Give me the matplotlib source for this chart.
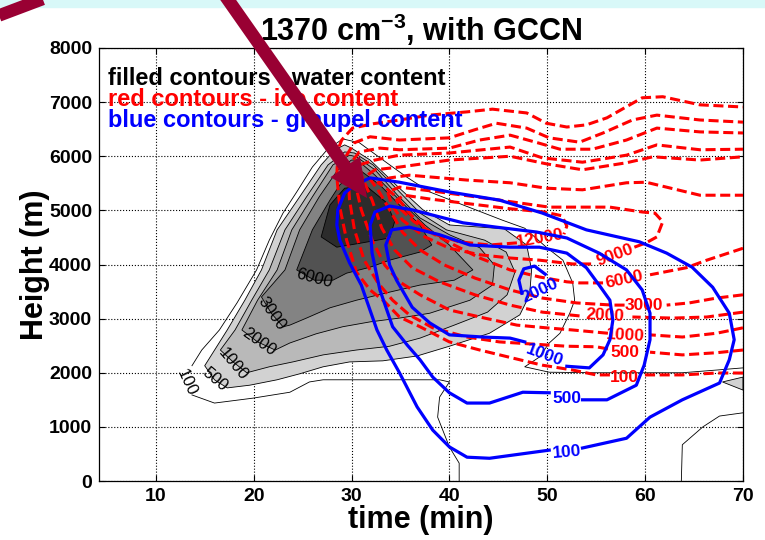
import matplotlib.pyplot as plt
from matplotlib.patches import FancyArrow, Rectangle

plt.rcParams['font.family'] = ['Liberation Sans', 'DejaVu Sans']
plt.rcParams['mathtext.fontset'] = 'custom'
plt.rcParams['mathtext.rm'] = 'Liberation Sans'
plt.rcParams['mathtext.bf'] = 'Liberation Sans:bold'

# -------------------------------
# water content (filled contours), points are (time [min], height [m])
# -------------------------------
water_100_upper = [(70.0, 2090), (67.3, 2050), (63.8, 2000), (60.1, 2000), (55.0, 2000),
                   (50.2, 2010), (47.7, 2110), (49.2, 2290), (50.2, 2550), (51.3, 2730),
                   (52.3, 3100), (52.8, 3340), (52.6, 3660), (51.6, 4080), (49.9, 4320),
                   (47.7, 4670), (45.4, 4820), (41.4, 5100), (38.0, 5340), (35.6, 5620),
                   (33.6, 5880), (30.8, 6250), (29.1, 6320), (27.5, 6120), (26.0, 5800),
                   (24.4, 5340), (23.0, 4950), (21.6, 4450), (20.3, 3900), (18.3, 3290),
                   (16.5, 2790), (14.7, 2420), (13.7, 2130)]
water_100_lower = [(13.7, 1590), (16.0, 1440), (19.9, 1530), (23.7, 1640), (25.7, 1830),
                   (27.1, 1870), (39.0, 1870), (40.0, 1830), (39.0, 1550), (38.8, 1180),
                   (40.0, 630), (41.0, 330), (41.0, 0)]
water_100_ground = [(63.7, 0), (63.8, 670), (65.9, 1000), (67.6, 1200), (70.0, 1260)]
water_500_patch = [(67.9, 1830), (70.0, 1920), (70.0, 1680)]

water_500 = [(15.0, 2130), (16.0, 1870), (17.3, 1720), (19.6, 1770), (22.4, 1870),
             (24.7, 1980), (27.1, 2110), (29.8, 2200), (33.2, 2220), (36.7, 2310),
             (40.0, 2490), (44.1, 2730), (47.2, 3070), (48.2, 3440), (48.4, 3900),
             (47.9, 4360), (45.6, 4660), (40.0, 4730), (37.3, 5010), (34.9, 5410),
             (31.9, 5930), (30.0, 6150), (29.3, 6210), (28.3, 6120), (26.9, 5840),
             (24.7, 5250), (22.4, 4640), (20.8, 3900), (19.1, 3340), (17.3, 2790)]
water_1000 = [(16.6, 2420), (17.9, 2200), (19.3, 2000), (21.6, 2110), (24.0, 2200),
              (27.1, 2330), (30.5, 2420), (33.9, 2490), (37.0, 2640), (40.5, 2880),
              (43.9, 3120), (45.9, 3440), (46.7, 3860), (45.8, 4230), (43.6, 4450),
              (39.7, 4640), (37.0, 4950), (34.7, 5380), (32.2, 5840), (30.3, 6060),
              (29.3, 6080), (27.6, 5840), (25.4, 5250), (23.2, 4640), (21.6, 3900),
              (19.8, 3340), (18.1, 2790)]
water_2000 = [(18.8, 2790), (20.4, 2570), (22.2, 2420), (23.7, 2550), (26.4, 2720),
              (29.1, 2850), (31.9, 2940), (34.9, 3010), (38.0, 3100), (42.1, 3340),
              (44.4, 3620), (44.6, 3990), (43.1, 4310), (40.0, 4550), (37.0, 4860),
              (34.7, 5280), (32.4, 5750), (30.5, 5990), (29.8, 6020), (28.1, 5840),
              (26.0, 5250), (23.9, 4640), (22.4, 3900), (20.4, 3340)]
water_3000 = [(20.8, 3400), (21.8, 3100), (23.0, 2850), (23.7, 2880), (25.4, 3010),
              (27.8, 3200), (30.5, 3340), (33.9, 3490), (37.0, 3620), (40.5, 3710),
              (42.4, 3900), (40.0, 4360), (37.5, 4730), (34.9, 5190), (32.4, 5650),
              (30.6, 5930), (30.0, 5930), (28.6, 5750), (26.7, 5250), (24.7, 4640),
              (23.2, 3900)]
water_6000 = [(24.4, 3900), (26.2, 3710), (28.1, 3710), (29.5, 3840), (31.9, 3950),
              (33.9, 4080), (37.0, 4230), (38.2, 4360), (37.0, 4730), (34.9, 5100),
              (32.9, 5470), (30.8, 5750), (30.3, 5710), (28.8, 5470), (27.8, 5190),
              (26.0, 4640)]
water_9000 = [(26.9, 4510), (28.5, 4320), (31.1, 4400), (33.9, 4490), (34.4, 4790),
              (33.6, 5140), (31.5, 5450), (29.3, 5410), (27.8, 5100)]

water_fills = [water_500, water_1000, water_2000, water_3000, water_6000, water_9000]
water_grays = ['#d2d2d2', '#b9b9b9', '#a0a0a0', '#838383', '#525252', '#2c2c2c']
water_labels = [('100', 13.2, 1810, -65), ('500', 16.0, 1880, -40), ('1000', 17.9, 2160, -50),
                ('2000', 20.5, 2570, -35), ('3000', 21.8, 3100, -55), ('6000', 26.2, 3750, -15)]

# -------------------------------
# ice content (red dashed), each contour split where its label sits
# -------------------------------
ice_100 = [[(70.0, 1995), (67.3, 1995), (63.8, 1960), (59.7, 1960)],
           [(56.4, 1960), (55.0, 1960), (52.6, 2050), (49.5, 2140), (46.5, 2270), (43.1, 2420),
            (40.0, 2570), (37.0, 2850), (34.9, 3030), (33.4, 3310), (31.9, 3530), (30.5, 3860),
            (29.5, 4450), (28.8, 5060), (28.5, 5620), (28.6, 6120), (29.0, 6300), (30.1, 6520),
            (32.2, 6600), (34.9, 6670), (38.0, 6760), (41.8, 6820), (44.4, 6870), (47.9, 6800),
            (49.9, 6610), (52.0, 6540), (54.0, 6580), (56.1, 6710), (59.7, 7080), (61.8, 7100),
            (65.6, 6950), (70.0, 6910)]]
ice_500 = [[(70.0, 2420), (67.3, 2370), (63.8, 2330), (60.5, 2380)],
           [(56.2, 2440), (55.0, 2480), (52.0, 2490), (48.5, 2530), (45.1, 2570), (41.8, 2660),
            (38.3, 2830), (35.9, 3070), (34.2, 3340), (32.7, 3660), (31.3, 4080), (30.3, 4640),
            (29.8, 5190), (29.6, 5750), (29.5, 6020), (30.3, 6250), (31.9, 6360), (34.9, 6300),
            (40.0, 6340), (42.6, 6490), (44.8, 6610), (47.9, 6520), (50.2, 6340), (53.3, 6260),
            (55.7, 6430), (58.7, 6670), (61.2, 6760), (65.6, 6670), (70.0, 6630)]]
ice_1000 = [[(70.0, 2830), (67.3, 2730), (63.8, 2660), (60.5, 2700)],
            [(56.2, 2730), (52.6, 2790), (49.9, 2830), (46.9, 2880), (43.6, 3010), (40.0, 3160),
             (37.0, 3440), (34.9, 3680), (33.4, 3990), (32.1, 4450), (31.0, 5010), (30.3, 5560),
             (30.0, 5890), (30.8, 6080), (32.9, 6150), (34.9, 6120), (40.0, 6150), (43.1, 6300),
             (46.2, 6390), (49.2, 6240), (51.3, 6130), (54.6, 6130), (58.1, 6300), (61.2, 6520),
             (65.6, 6450), (70.0, 6430)]]
ice_2000 = [[(70.0, 3120), (66.3, 3030), (62.8, 3010), (58.7, 3030)],
            [(53.3, 3050), (49.5, 3120), (46.2, 3250), (42.6, 3440), (39.0, 3680), (36.2, 3940),
             (34.4, 4270), (33.1, 4670), (32.1, 5190), (31.0, 5650), (30.8, 5840), (32.4, 5930),
             (34.9, 6020), (40.0, 6060), (46.2, 6170), (49.5, 5970), (53.6, 5890), (58.1, 6020),
             (61.2, 6210), (65.6, 6120), (70.0, 6130)]]
ice_3000 = [[(70.0, 3440), (67.3, 3380), (64.5, 3290), (62.2, 3250)],
            [(57.9, 3250), (56.7, 3250), (53.0, 3290), (49.5, 3380), (46.2, 3530), (42.6, 3750),
             (39.5, 3990), (37.0, 4270), (35.2, 4600), (33.9, 5010), (32.7, 5380), (31.6, 5650),
             (32.4, 5750), (34.9, 5800), (40.0, 5930), (46.2, 6000), (49.9, 5860), (53.6, 5750),
             (58.1, 5880), (60.8, 5990), (65.6, 5930), (70.0, 5990)]]
ice_6000 = [[(70.0, 4300), (66.3, 4080), (64.2, 3940), (60.5, 3810)],
            [(55.7, 3660), (53.3, 3660), (52.0, 3680), (49.2, 3770), (46.2, 3900), (43.1, 4120),
             (40.5, 4360), (38.0, 4600), (36.1, 4910), (34.7, 5230), (33.4, 5430), (32.7, 5510),
             (33.9, 5600), (35.9, 5650), (41.8, 5560), (46.2, 5510), (49.9, 5410), (53.6, 5380),
             (58.1, 5510), (60.1, 5520), (65.6, 5280), (70.0, 5280)]]
ice_9000 = [[(58.9, 4320), (60.1, 4400), (61.2, 4510), (61.8, 4790), (61.0, 4950), (59.7, 4970),
             (56.4, 5060), (50.2, 5060), (45.1, 5190), (39.0, 5340), (34.9, 5430), (33.7, 5340),
             (34.1, 5100), (35.2, 4820), (37.5, 4510), (40.0, 4300), (43.1, 4180), (46.2, 4120),
             (49.2, 4080), (52.6, 4010), (54.6, 4010)]]
ice_12000 = [[(46.9, 4400), (44.1, 4360), (41.0, 4420), (38.5, 4560), (36.4, 4790), (35.1, 5010),
              (34.6, 5190), (35.4, 5280), (38.0, 5210), (42.1, 5120), (46.2, 5030), (49.7, 4970),
              (51.5, 4900), (52.0, 4710), (51.7, 4560)]]

ice_contours = [ice_100, ice_500, ice_1000, ice_2000, ice_3000, ice_6000, ice_9000, ice_12000]
ice_labels = [('100', 57.9, 1920, 0), ('500', 57.9, 2380, 0), ('1000', 58.0, 2680, -3),
              ('2000', 55.9, 3050, -3), ('3000', 59.9, 3250, 0), ('6000', 57.9, 3730, 12),
              ('9000', 56.9, 4180, 20), ('12000', 49.2, 4490, 10)]

# -------------------------------
# graupel content (blue solid)
# -------------------------------
graupel_100 = [(53.6, 610), (58.1, 790), (60.5, 1180), (63.8, 1500), (67.6, 1810), (68.6, 2240),
               (69.1, 2610), (68.6, 3100), (66.9, 3580), (64.8, 3950), (62.2, 4210), (59.4, 4420),
               (54.0, 4640), (49.5, 4950), (45.1, 5190), (40.0, 5340), (34.9, 5520), (31.9, 5600),
               (30.3, 5470), (29.3, 5320), (28.6, 5010), (28.5, 4730), (28.8, 4450), (29.8, 4030),
               (31.0, 3620), (32.6, 2790), (33.6, 2420), (34.9, 2000), (36.7, 1370), (38.3, 940),
               (40.0, 630), (41.8, 440), (44.1, 420), (50.2, 570)]
graupel_500 = [(53.6, 1500), (56.1, 1500), (59.1, 1770), (59.9, 2140), (60.5, 2610), (60.5, 3100),
               (59.7, 3530), (58.1, 3900), (55.3, 4210), (52.0, 4490), (48.9, 4600), (44.8, 4690),
               (41.4, 4770), (39.0, 4880), (36.2, 5010), (33.9, 5080), (32.4, 4970), (31.9, 4730),
               (32.1, 4210), (32.9, 3530), (34.2, 2850), (35.7, 2510), (37.0, 2240), (38.3, 1920),
               (40.0, 1630), (41.8, 1440), (44.1, 1440), (47.5, 1640), (50.2, 1630)]
graupel_1000 = [(52.0, 2120), (54.3, 2090), (55.7, 2330), (56.4, 2610), (56.7, 2970), (56.4, 3340),
                (55.3, 3620), (54.0, 3940), (52.0, 4210), (49.2, 4320), (46.2, 4320), (42.1, 4360),
                (39.0, 4550), (35.9, 4690), (34.1, 4640), (33.5, 4360), (33.9, 3990), (34.6, 3710),
                (36.2, 3210), (38.0, 2920), (40.0, 2700), (43.4, 2660), (46.2, 2640), (47.7, 2570)]
graupel_2000 = [(47.4, 3470), (47.1, 3710), (47.6, 3920), (48.7, 3970), (49.8, 3820)]

graupel_contours = [graupel_100, graupel_500, graupel_1000, graupel_2000]
graupel_labels = [('100', 52.0, 540, 5), ('500', 52.0, 1520, 0), ('1000', 49.7, 2330, -20),
                  ('2000', 49.3, 3510, 25)]

x_ticks = [10, 20, 30, 40, 50, 60, 70]
y_ticks = [0, 1000, 2000, 3000, 4000, 5000, 6000, 7000, 8000]


def xy(points):
    return [p[0] for p in points], [p[1] for p in points]


fig = plt.figure(figsize=(7.65, 5.4), dpi=100)
fig.patches.append(Rectangle((0, 1 - 7 / 540), 1, 7 / 540, transform=fig.transFigure,
                             color='#d8f8f8', zorder=0))

ax = fig.add_axes([99 / 765, 1 - 481 / 540, 644 / 765, 433 / 540])
ax.set_xlim(4.2, 70)
ax.set_ylim(0, 8000)
ax.set_xticks(x_ticks)
ax.set_yticks(y_ticks)
ax.set_axisbelow(True)
ax.grid(True, ls=':', color='black', lw=0.8)
ax.tick_params(direction='in', length=4, width=0.8, top=True, right=True, labelsize=14, pad=5)
for lab in ax.get_xticklabels() + ax.get_yticklabels():
    lab.set_fontweight('bold')
for sp in ax.spines.values():
    sp.set_linewidth(0.9)

# filled water contours
for poly, gray in zip(water_fills, water_grays):
    t, h = xy(poly)
    ax.fill(t, h, facecolor=gray, edgecolor='black', lw=0.6, zorder=2)
t, h = xy(water_500_patch)
ax.fill(t, h, facecolor=water_grays[0], edgecolor='black', lw=0.6, zorder=2)
for line in [water_100_upper, water_100_lower, water_100_ground]:
    t, h = xy(line)
    ax.plot(t, h, color='black', lw=0.6, zorder=2)
for txt, t, h, ang in water_labels:
    ax.text(t, h, txt, fontsize=12, rotation=ang, ha='center', va='center',
            rotation_mode='anchor', zorder=3)

# ice contours
for contour in ice_contours:
    for seg in contour:
        t, h = xy(seg)
        ax.plot(t, h, color='red', lw=2.2, ls=(0, (3.3, 1.5)), zorder=4)
for txt, t, h, ang in ice_labels:
    ax.text(t, h, txt, fontsize=12.5, fontweight='bold', color='red', rotation=ang,
            ha='center', va='center', rotation_mode='anchor', zorder=4)

# graupel contours
for contour in graupel_contours:
    t, h = xy(contour)
    ax.plot(t, h, color='blue', lw=2.3, zorder=5)
for txt, t, h, ang in graupel_labels:
    ax.text(t, h, txt, fontsize=12.5, fontweight='bold', color='blue', rotation=ang,
            ha='center', va='center', rotation_mode='anchor', zorder=5)

ax.set_xlabel('time (min)', fontsize=22, fontweight='bold', labelpad=0)
ax.set_ylabel('Height (m)', fontsize=22, fontweight='bold', labelpad=-1)
ax.set_title(r'1370 cm$^{\mathbf{-3}}$, with GCCN', fontsize=22, fontweight='bold', pad=5)

ax.text(0.014, 0.915, 'filled contours - water content', transform=ax.transAxes,
        fontsize=17, fontweight='bold', color='black', zorder=6)
ax.text(0.014, 0.867, 'red contours - ice content', transform=ax.transAxes,
        fontsize=17, fontweight='bold', color='red', zorder=6)
ax.text(0.014, 0.818, 'blue contours - graupel content', transform=ax.transAxes,
        fontsize=17, fontweight='bold', color='blue', zorder=6)

# pointer arrows on top, in pixel coordinates
ov = fig.add_axes([0, 0, 1, 1], zorder=10)
ov.set_xlim(0, 765)
ov.set_ylim(540, 0)
ov.axis('off')
ov.add_patch(FancyArrow(224, -6, 143, 204, width=13, head_width=36, head_length=38,
                        length_includes_head=True, color='#990033', lw=0))
ov.plot([-5, 48], [17, -3], color='#990033', lw=9, solid_capstyle='butt')

fig.savefig('out.png', dpi=100)
